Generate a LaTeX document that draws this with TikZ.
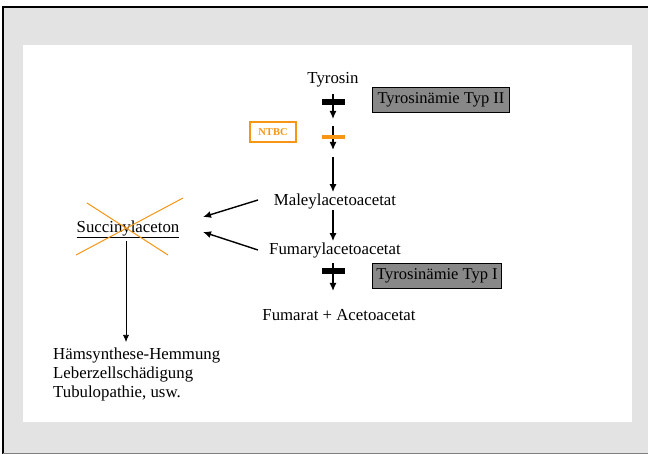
\documentclass[tikz,border=0pt]{standalone}
\usepackage{fontspec}
\setmainfont{Liberation Serif}
\usetikzlibrary{arrows.meta}
\definecolor{framegray}{RGB}{227,227,227}
\definecolor{boxgray}{RGB}{136,136,136}
\definecolor{ntbcorange}{RGB}{247,150,20}
\tikzset{
  stoff/.style={font=\fontsize{16.8}{20}\selectfont, inner sep=1pt},
  krank/.style={draw=black, fill=boxgray, line width=0.8pt, font=\fontsize{16.5}{20}\selectfont, minimum width=137pt, minimum height=25pt, inner sep=2pt},
  pfeil/.style={-{Latex[length=8pt,width=7pt]}, line width=1.4pt},
  sperre/.style={line width=6pt},
}
\begin{document}
\begin{tikzpicture}[x=1pt,y=-1pt]
  \useasboundingbox (0,0) rectangle (648,454);
  \fill[framegray] (2,6) rectangle (648,454);
  \draw[line width=2pt] (3,454) -- (3,7) -- (648,7);
  \draw[gray, line width=1pt] (3,453.5) -- (648,453.5);
  \fill[white] (23,45) rectangle (632,422);

  % Hauptweg
  \node[stoff] (tyr) at (333,80) {Tyrosin};
  \node[stoff] (male) at (335,201) {Maleylacetoacetat};
  \node[stoff] (fuma) at (335,250) {Fumarylacetoacetat};
  \node[stoff] (prod) at (339,315) {Fumarat + Acetoacetat};
  \coordinate (a1) at (333,94);
  \coordinate (b1) at (333,119);
  \coordinate (a2) at (333,126);
  \coordinate (b2) at (333,150);
  \coordinate (a3) at (333,157);
  \coordinate (a4) at (333,263);
  \coordinate (b4) at (333,291);
  \draw[pfeil] (a1) -- (b1);
  \draw[sperre] (322,102) -- (345,102);
  \draw[pfeil] (a2) -- (b2);
  \draw[ntbcorange, line width=3.5pt] (322,137) -- (345,137);
  \draw[pfeil] (a3) -- (male.north -| a3);
  \draw[pfeil] (male.south -| a3) -- (fuma.north -| a3);
  \draw[pfeil] (a4) -- (b4);
  \draw[sperre] (322,271) -- (345,271);

  % Enzymdefekte
  \node[krank] (typ2) at (441,100) {Tyrosinämie Typ II};
  \node[krank, minimum width=129pt] (typ1) at (437,276) {Tyrosinämie Typ I};
  \node[draw=ntbcorange, line width=1.3pt, text=ntbcorange, font=\bfseries\fontsize{10.5}{12}\selectfont, minimum width=46pt, minimum height=20pt] (ntbc) at (273,132) {NTBC};

  % Nebenweg
  \node[stoff] (succ) at (128,229) {\underline{Succinylaceton}};
  \coordinate (m1) at (258,200);
  \coordinate (f1) at (258,250);
  \coordinate (s1) at (203,217);
  \coordinate (s2) at (203,232);
  \draw[pfeil] (m1) -- (s1);
  \draw[pfeil] (f1) -- (s2);
  \draw[ntbcorange, line width=1pt] (87,203) -- (168,255);
  \draw[ntbcorange, line width=1pt] (76,255) -- (183,198);
  \coordinate (s3) at (126,342);
  \draw[-{Latex[length=7pt,width=6pt]}, line width=0.7pt] (126,241) -- (s3);
  \node[stoff, anchor=north west, align=left, inner sep=0pt, font=\fontsize{16.8}{19}\selectfont] (folg) at (53,348) {Hämsynthese-Hemmung\\Leberzellschädigung\\Tubulopathie, usw.};
\end{tikzpicture}
\end{document}
